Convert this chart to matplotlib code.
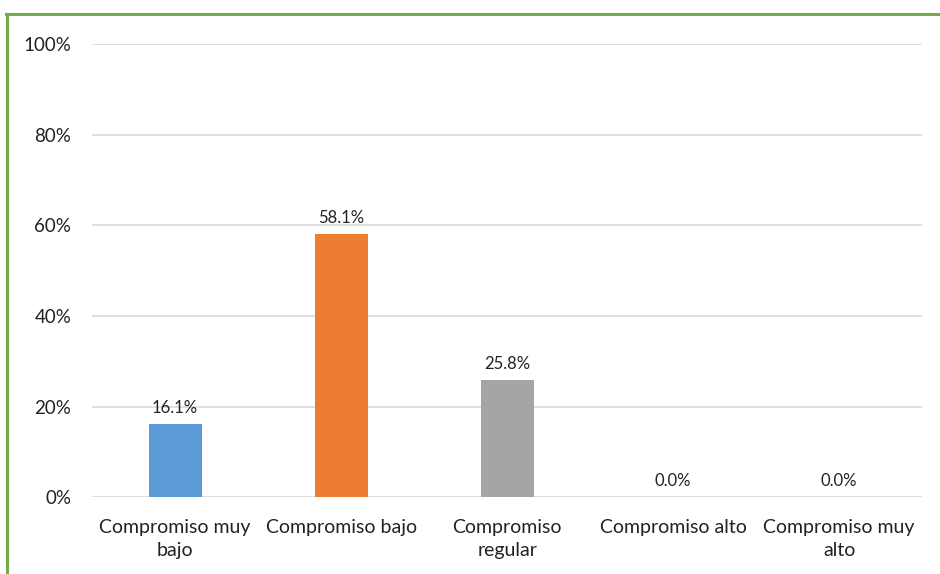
import matplotlib.pyplot as plt
from matplotlib.lines import Line2D
from matplotlib.ticker import PercentFormatter

categories = ["Compromiso muy\nbajo", "Compromiso bajo", "Compromiso\nregular",
              "Compromiso alto", "Compromiso muy\nalto"]
values = [16.1, 58.1, 25.8, 0.0, 0.0]
colors = ["#5B9BD5", "#ED7D31", "#A5A5A5", "#FFC000", "#4472C4"]

plt.rcParams["font.family"] = ["Lato", "DejaVu Sans"]

fig = plt.figure(figsize=(9.4, 5.74), dpi=100)
ax = fig.add_axes([0.098, 0.134, 0.883, 0.789])

x = range(len(categories))
ax.bar(x, values, width=0.32, color=colors, zorder=3)
for xi, v in zip(x, values):
    ax.annotate(f"{v:.1f}%", (xi, v), xytext=(0, 6), textcoords="offset points",
                ha="center", va="bottom", fontsize=12, color="#222222")

ax.set_xlim(-0.5, len(categories) - 0.5)
ax.set_ylim(0, 100)
ax.set_yticks([0, 20, 40, 60, 80, 100])
ax.yaxis.set_major_formatter(PercentFormatter(decimals=0))
ax.set_xticks(list(x))
ax.set_xticklabels(categories, fontsize=14, linespacing=1.4, color="#222222")
ax.tick_params(axis="y", labelsize=13.5, length=0, pad=15, labelcolor="#222222")
ax.tick_params(axis="x", length=0, pad=16)
ax.grid(axis="y", color="#D9D9D9", linewidth=1.2, zorder=0)
for s in ax.spines.values():
    s.set_visible(False)

# green frame on left and top
fig.add_artist(Line2D([0.007, 0.007], [0, 0.976], transform=fig.transFigure,
                      color="#70AD47", linewidth=2.2))
fig.add_artist(Line2D([0.006, 1.0], [0.975, 0.975], transform=fig.transFigure,
                      color="#70AD47", linewidth=2.2))

fig.savefig("out.png", dpi=100)
